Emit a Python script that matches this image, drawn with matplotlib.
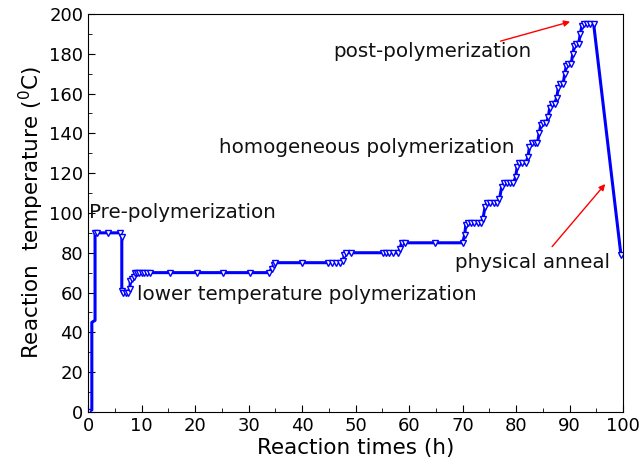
import matplotlib.pyplot as plt

# Reaction temperature profile
times = [0, 0.7, 0.7, 1.3, 1.3, 1.6, 3.7, 6.0, 6.3, 6.3, 6.6, 7.0, 7.4, 7.8, 7.9, 8.3, 8.6,
         8.8, 9.2, 9.6, 10.0, 10.5, 11.0, 11.6, 15.3, 20.3, 25.3, 30.3, 33.8, 34.3, 34.7,
         35.0, 40.0, 44.9, 45.6, 46.3, 47.0, 47.7, 47.9, 48.3, 49.1, 55.1, 55.7, 56.3,
         57.0, 57.9, 58.3, 58.6, 59.2, 64.9, 70.0, 70.4, 70.6, 71.0, 71.6, 72.2, 72.8,
         73.4, 73.8, 74.2, 74.6, 75.2, 75.8, 76.4, 76.9, 77.3, 77.7, 78.3, 78.9, 79.5,
         79.9, 80.2, 80.6, 81.2, 81.8, 82.2, 82.5, 82.9, 83.5, 84.0, 84.3, 84.6, 85.0,
         85.6, 86.0, 86.3, 86.7, 87.2, 87.6, 87.9, 88.3, 88.8, 89.1, 89.4, 89.8, 90.3,
         90.6, 90.9, 91.2, 91.7, 92.0, 92.3, 92.7, 93.3, 93.9, 94.5, 99.6]
temps = [0, 1, 45, 46, 90, 90, 90, 90, 88, 61, 60, 60, 60, 62, 66, 67, 68,
         70, 70, 70, 70, 70, 70, 70, 70, 70, 70, 70, 70, 72, 74,
         75, 75, 75, 75, 75, 75, 76, 79, 80, 80, 80, 80, 80,
         80, 80, 82, 85, 85, 85, 85, 89, 94, 95, 95, 95, 95,
         95, 97, 103, 105, 105, 105, 105, 107, 113, 115, 115, 115, 115,
         118, 123, 125, 125, 125, 128, 133, 135, 135, 135, 140, 144, 145,
         145, 148, 153, 155, 155, 158, 163, 165, 165, 170, 174, 175, 175,
         180, 184, 185, 185, 190, 194, 195, 195, 195, 195, 79]

# Stage labels: text, text position, arrow tail, arrow head
labels = ['Pre-polymerization', 'lower temperature polymerization',
          'homogeneous polymerization', 'post-polymerization', 'physical anneal']
label_x = [0.2, 9.2, 24.5, 45.8, 68.6]
label_y = [100, 59, 133, 181, 75]
arrow_from = [(76.6, 186), (86.4, 82)]
arrow_to = [(90.6, 196.5), (97.0, 115.6)]

fig = plt.figure(figsize=(6.43, 4.67), dpi=100)
ax = fig.add_axes([0.137, 0.118, 0.832, 0.852])

# Temperature curve (no markers on the very first rise)
ax.plot(times, temps, color='#0000ff', lw=2.2, marker='v', ms=5,
        mfc='white', mec='#0000ff', mew=1.0, markevery=[0] + list(range(4, len(times))))

# Stage labels
for txt, x, y in zip(labels, label_x, label_y):
    ax.text(x, y, txt, fontsize=14.3, va='center', ha='left', color='#111111')

# Red arrows
for start, end in zip(arrow_from, arrow_to):
    ax.annotate('', xy=end, xytext=start,
                arrowprops=dict(arrowstyle='-|>', color='red', lw=1,
                                mutation_scale=9))

ax.set_xlim(0, 100)
ax.set_ylim(0, 200)
ax.set_xticks(range(0, 101, 10))
ax.set_xticks(range(5, 100, 10), minor=True)
ax.set_yticks(range(0, 201, 20))
ax.set_yticks(range(10, 200, 20), minor=True)
ax.tick_params(which='both', direction='in', top=False, right=False, labelsize=13)
ax.tick_params(which='major', length=5)
ax.tick_params(which='minor', length=3)

ax.set_xlabel('Reaction times (h)', fontsize=15.5, labelpad=2)
ax.set_ylabel('Reaction  temperature ($^{0}$C)', fontsize=15.5, labelpad=2)

plt.savefig('out.png')
